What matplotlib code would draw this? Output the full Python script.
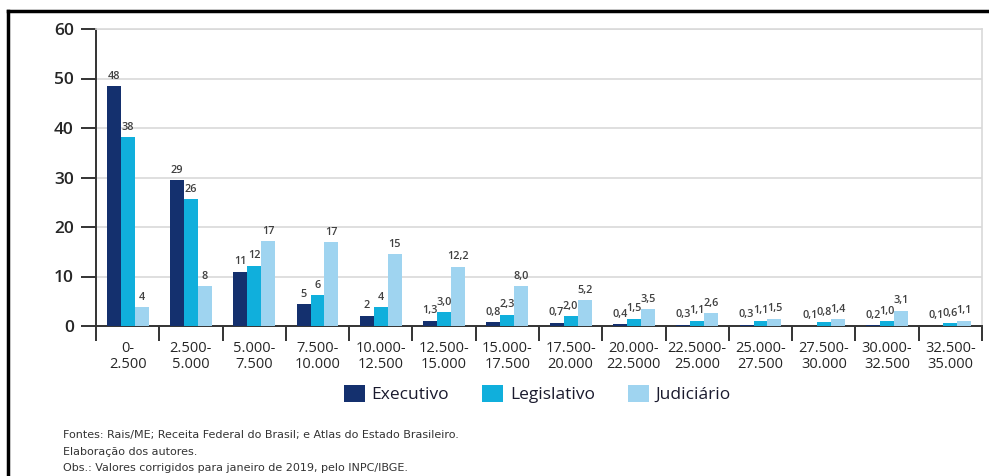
import matplotlib
matplotlib.use("Agg")
import matplotlib.pyplot as plt
from matplotlib.lines import Line2D
from matplotlib.patches import Patch
import numpy as np

plt.rcParams['font.family'] = ['Open Sans', 'DejaVu Sans']

faixas = ["0-\n2.500", "2.500-\n5.000", "5.000-\n7.500", "7.500-\n10.000",
          "10.000-\n12.500", "12.500-\n15.000", "15.000-\n17.500", "17.500-\n20.000",
          "20.000-\n22.5000", "22.5000-\n25.000", "25.000-\n27.500", "27.500-\n30.000",
          "30.000-\n32.500", "32.500-\n35.000"]

# bar heights
executivo = [48.4, 29.5, 11.0, 4.5, 2.1, 1.1, 0.8, 0.7, 0.4, 0.3, 0.3, 0.1, 0.2, 0.1]
legislativo = [38.2, 25.6, 12.2, 6.2, 3.8, 2.8, 2.3, 2.0, 1.5, 1.1, 1.1, 0.8, 1.0, 0.6]
judiciario = [3.8, 8.1, 17.2, 17.0, 14.6, 12.0, 8.0, 5.2, 3.5, 2.6, 1.5, 1.4, 3.1, 1.1]

# printed value labels
lab_exec = ["48", "29", "11", "5", "2", "1,3", "0,8", "0,7", "0,4", "0,3", "0,3", "0,1", "0,2", "0,1"]
lab_leg = ["38", "26", "12", "6", "4", "3,0", "2,3", "2,0", "1,5", "1,1", "1,1", "0,8", "1,0", "0,6"]
lab_jud = ["4", "8", "17", "17", "15", "12,2", "8,0", "5,2", "3,5", "2,6", "1,5", "1,4", "3,1", "1,1"]

series = ["Executivo", "Legislativo", "Judiciário"]
cores = ["#14306e", "#10afdc", "#9fd4f0"]

fig = plt.figure(figsize=(9.89, 4.76), dpi=100)
ax = fig.add_axes([96 / 989, 1 - 326 / 476, (982 - 96) / 989, (326 - 29) / 476])

x = np.arange(len(faixas))
w = 0.221
dados = [executivo, legislativo, judiciario]
labels = [lab_exec, lab_leg, lab_jud]
for i, (vals, labs, c) in enumerate(zip(dados, labels, cores)):
    pos = x + (i - 1) * w
    ax.bar(pos, vals, width=w, color=c, zorder=3)
    for px, v, t in zip(pos, vals, labs):
        ax.annotate(t, (px, v), xytext=(0, 3), textcoords="offset points",
                    ha="center", va="bottom", fontsize=7.8, color="#404040",
                    fontweight="semibold")

ax.set_ylim(0, 60)
ax.set_xlim(-0.5, len(faixas) - 0.5)
ax.set_yticks(range(0, 61, 10))
ax.tick_params(axis="y", length=11, width=1.4, color="#333333", labelsize=12.5,
               labelcolor="#262626", pad=5)
for t in ax.get_yticklabels():
    t.set_fontweight("semibold")
ax.set_xticks(x)
ax.set_xticklabels(faixas, fontsize=10.5, color="#262626", linespacing=1.1)
ax.set_xticks(np.arange(-0.5, len(faixas)), minor=True)
ax.tick_params(axis="x", which="major", length=0, pad=11)
ax.tick_params(axis="x", which="minor", length=11, width=1.4, color="#333333")

ax.grid(axis="y", color="#d9d9d9", linewidth=1.2, zorder=0)
for s in ["top", "right"]:
    ax.spines[s].set_color("#d9d9d9")
    ax.spines[s].set_linewidth(1.2)
for s in ["left", "bottom"]:
    ax.spines[s].set_color("#333333")
    ax.spines[s].set_linewidth(1.4)

handles = [Patch(facecolor=c, label=s) for s, c in zip(series, cores)]
fig.legend(handles=handles, loc="center", bbox_to_anchor=(537.5 / 989, 1 - 394 / 476),
           ncol=3, frameon=False, fontsize=12.5, handlelength=1.2, handleheight=1.1,
           handletextpad=0.4, columnspacing=1.9, labelcolor="#1a1a2e")

notas = ["Fontes: Rais/ME; Receita Federal do Brasil; e Atlas do Estado Brasileiro.",
         "Elaboração dos autores.",
         "Obs.: Valores corrigidos para janeiro de 2019, pelo INPC/IBGE."]
for t, yy in zip(notas, [435, 452, 468]):
    fig.text(63 / 989, 1 - yy / 476, t, fontsize=8.0, va="center", color="#333333",
             family=["Liberation Sans Narrow", "DejaVu Sans"])

# frame lines of the box around the figure
fig.add_artist(Line2D([8 / 989, 1], [1 - 11 / 476, 1 - 11 / 476], color="black", lw=2.5))
fig.add_artist(Line2D([8 / 989, 8 / 989], [0, 1 - 11 / 476], color="black", lw=2.5))

fig.savefig("out.png", dpi=100)
